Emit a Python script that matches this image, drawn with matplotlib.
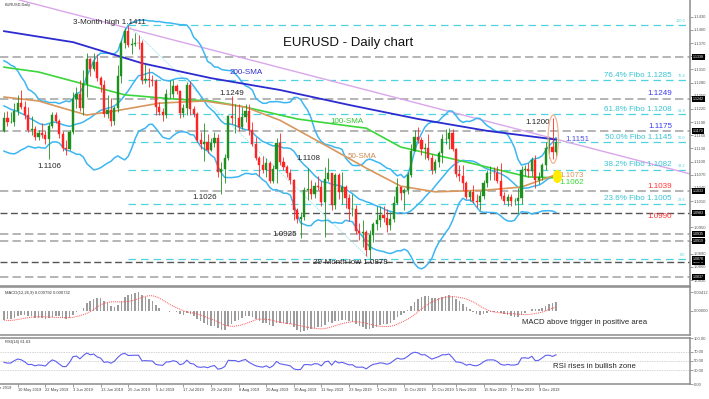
import numpy as np
import pandas as pd
import matplotlib
matplotlib.use("Agg")
import matplotlib.pyplot as plt
import matplotlib.transforms as mtransforms
from matplotlib.patches import Ellipse

plt.rcParams['font.family'] = ['Liberation Sans', 'DejaVu Sans']

# April 2019 closes, only used to warm up the indicators
prior_close = [1.1261, 1.1264, 1.1274, 1.1254, 1.1299, 1.1303, 1.1283, 1.1296, 1.1235, 1.1246,
               1.1258, 1.1224, 1.1154, 1.1131, 1.1149, 1.1183, 1.1216, 1.1194, 1.1172, 1.1200]

first_open = 1.1170
close = [1.1199, 1.1190, 1.1191, 1.1215, 1.1233,
         1.1225, 1.1205, 1.1173, 1.1174, 1.1157,
         1.1164, 1.1160, 1.1152, 1.1180, 1.1205,
         1.1192, 1.1163, 1.1130, 1.1129, 1.1168,
         1.1243, 1.1253, 1.1221, 1.1276, 1.1333,
         1.1310, 1.1327, 1.1291, 1.1275, 1.1208,
         1.1217, 1.1193, 1.1223, 1.1294, 1.1369,
         1.1398, 1.1365, 1.1368, 1.1371, 1.1370,
         1.1285, 1.1289, 1.1285, 1.1283, 1.1225,
         1.1213, 1.1207, 1.1253, 1.1255, 1.1271,
         1.1261, 1.1210, 1.1223, 1.1274, 1.1219,
         1.1208, 1.1150, 1.1139, 1.1145, 1.1127,
         1.1143, 1.1153, 1.1076, 1.1084, 1.1108,
         1.1203, 1.1199, 1.1199, 1.1179, 1.1201,
         1.1215, 1.1172, 1.1140, 1.1107, 1.1091,
         1.1080, 1.1096, 1.1056, 1.1082, 1.1143,
         1.1100, 1.1088, 1.1075, 1.1059, 1.0990,
         1.0969, 1.0973, 1.1035, 1.1037, 1.1027,
         1.1045, 1.1042, 1.1008, 1.1061, 1.1073,
         1.1001, 1.1070, 1.1031, 1.1043, 1.1018,
         1.0991, 1.0993, 1.0941, 1.0938, 1.0940,
         1.0899, 1.0932, 1.0958, 1.0966, 1.0979,
         1.0972, 1.0956, 1.0970, 1.1005, 1.1041,
         1.1028, 1.1035, 1.1070, 1.1125, 1.1157,
         1.1150, 1.1128, 1.1131, 1.1107, 1.1080,
         1.1099, 1.1119, 1.1151, 1.1152, 1.1166,
         1.1128, 1.1071, 1.1066, 1.1052, 1.1019,
         1.1031, 1.1011, 1.1007, 1.1022, 1.1051,
         1.1073, 1.1075, 1.1074, 1.1056, 1.1022,
         1.1011, 1.1019, 1.1009, 1.1010, 1.1017,
         1.1081, 1.1083, 1.1078, 1.1103, 1.1059,
         1.1064, 1.1093, 1.1130, 1.1132, 1.1121,
         1.1144]
high = [1.1213, 1.1215, 1.1212, 1.1233, 1.1252,
        1.1264, 1.1237, 1.1224, 1.1203, 1.1182,
        1.1172, 1.1188, 1.1170, 1.1188, 1.1214,
        1.1214, 1.1196, 1.1170, 1.1149, 1.1173,
        1.1259, 1.1269, 1.1286, 1.1309, 1.1348,
        1.1335, 1.1347, 1.1344, 1.1296, 1.1285,
        1.1251, 1.1245, 1.1227, 1.1319, 1.1378,
        1.1404, 1.1411, 1.1382, 1.1393, 1.1389,
        1.1376, 1.1322, 1.1312, 1.1297, 1.1289,
        1.1236, 1.1221, 1.1265, 1.1286, 1.1285,
        1.1276, 1.1262, 1.1230, 1.1282, 1.1283,
        1.1226, 1.1212, 1.1168, 1.1187, 1.1163,
        1.1154, 1.1168, 1.1163, 1.1098, 1.1117,
        1.1207, 1.1249, 1.1230, 1.1230, 1.1225,
        1.1232, 1.1230, 1.1190, 1.1155, 1.1113,
        1.1112, 1.1107, 1.1101, 1.1093, 1.1153,
        1.1164, 1.1110, 1.1093, 1.1083, 1.1060,
        1.0995, 1.0985, 1.1042, 1.1085, 1.1058,
        1.1053, 1.1068, 1.1055, 1.1087, 1.1109,
        1.1075, 1.1075, 1.1075, 1.1076, 1.1047,
        1.1025, 1.1025, 1.1001, 1.0960, 1.0967,
        1.0945, 1.0943, 1.0963, 1.0998, 1.0999,
        1.0999, 1.0991, 1.0986, 1.1021, 1.1063,
        1.1043, 1.1040, 1.1077, 1.1140, 1.1173,
        1.1179, 1.1155, 1.1143, 1.1163, 1.1118,
        1.1106, 1.1125, 1.1163, 1.1175, 1.1176,
        1.1175, 1.1130, 1.1092, 1.1093, 1.1055,
        1.1036, 1.1047, 1.1025, 1.1032, 1.1058,
        1.1080, 1.1089, 1.1087, 1.1090, 1.1097,
        1.1030, 1.1025, 1.1026, 1.1016, 1.1039,
        1.1090, 1.1093, 1.1096, 1.1110, 1.1116,
        1.1076, 1.1097, 1.1145, 1.1155, 1.1200,
        1.1153]
low = [1.1167, 1.1181, 1.1187, 1.1180, 1.1206,
       1.1219, 1.1197, 1.1167, 1.1160, 1.1149,
       1.1149, 1.1153, 1.1140, 1.1106, 1.1177,
       1.1188, 1.1153, 1.1125, 1.1116, 1.1126,
       1.1162, 1.1223, 1.1215, 1.1206, 1.1246,
       1.1296, 1.1306, 1.1284, 1.1258, 1.1202,
       1.1200, 1.1181, 1.1183, 1.1212, 1.1278,
       1.1358, 1.1361, 1.1346, 1.1364, 1.1356,
       1.1276, 1.1280, 1.1270, 1.1271, 1.1207,
       1.1206, 1.1193, 1.1200, 1.1245, 1.1245,
       1.1253, 1.1200, 1.1201, 1.1207, 1.1206,
       1.1201, 1.1144, 1.1128, 1.1101, 1.1119,
       1.1123, 1.1134, 1.1064, 1.1026, 1.1050,
       1.1104, 1.1185, 1.1164, 1.1170, 1.1175,
       1.1189, 1.1160, 1.1135, 1.1103, 1.1066,
       1.1073, 1.1065, 1.1050, 1.1051, 1.1052,
       1.1091, 1.1081, 1.1065, 1.1048, 1.0966,
       1.0959, 1.0926, 1.0966, 1.1013, 1.1015,
       1.1017, 1.1035, 1.0998, 1.0927, 1.1055,
       1.0990, 1.0993, 1.1015, 1.1003, 1.0995,
       1.0965, 1.0976, 1.0934, 1.0921, 1.0905,
       1.0885, 1.0878, 1.0916, 1.0943, 1.0950,
       1.0962, 1.0940, 1.0943, 1.0962, 1.1003,
       1.1013, 1.0990, 1.1025, 1.1065, 1.1123,
       1.1142, 1.1115, 1.1105, 1.1103, 1.1072,
       1.1073, 1.1087, 1.1097, 1.1140, 1.1129,
       1.1123, 1.1064, 1.1055, 1.1036, 1.1014,
       1.1011, 1.1005, 1.0997, 1.0989, 1.1014,
       1.1042, 1.1057, 1.1059, 1.1050, 1.1015,
       1.1003, 1.0999, 1.0999, 1.1001, 1.0981,
       1.1003, 1.1067, 1.1065, 1.1068, 1.1040,
       1.1048, 1.1059, 1.1080, 1.1108, 1.1105,
       1.1111]

# moving averages (bar index, price)
sma200_bar = [0, 20, 40, 60, 80, 100, 120, 140, 160]
sma200_val = [1.1397, 1.1372, 1.1324, 1.1290, 1.1263, 1.1229, 1.1197, 1.1170, 1.1150]
sma100_bar = [0, 10, 20, 35, 50, 60, 70, 85, 100, 105, 115, 125, 135, 145, 152, 160]
sma100_val = [1.1315, 1.1304, 1.1283, 1.1252, 1.1242, 1.1238, 1.1224, 1.1197, 1.1181, 1.1176,
              1.1133, 1.1115, 1.1097, 1.1078, 1.1065, 1.1063]
sma50_bar = [0, 10, 20, 24, 32, 45, 58, 70, 80, 95, 105, 115, 125, 140, 150, 160]
sma50_val = [1.1247, 1.1238, 1.1215, 1.1206, 1.1215, 1.1233, 1.1238, 1.1224, 1.1194, 1.1129,
             1.1085, 1.1044, 1.1031, 1.1035, 1.1042, 1.1070]

# descending trendline anchors
trend_bar = [0, 160]
trend_val = [1.1477, 1.1151]

# fibonacci retracement from 3-month high to 29-month low
fib_high, fib_low = 1.1411, 1.0878
fib_high_date, fib_low_date = "2019-06-25", "2019-10-01"
fib_pct = [100.0, 76.4, 61.8, 50.0, 38.2, 23.6, 0.0]
fib_text = {76.4: "76.4% Fibo 1.1285", 61.8: "61.8% Fibo 1.1208", 50.0: "50.0% Fibo 1.1145",
            38.2: "38.2% Fibo 1.1082", 23.6: "23.6% Fibo 1.1005"}

# horizontal support / resistance lines
gray_levels = [1.1338, 1.1242, 1.1170, 1.1033, 1.0935, 1.0919, 1.0837]
dark_levels = [1.0983, 1.0871]

tick_labels = ["10 May 2019", "22 May 2019", "3 Jun 2019", "13 Jun 2019", "25 Jun 2019",
               "5 Jul 2019", "17 Jul 2019", "29 Jul 2019", "8 Aug 2019", "20 Aug 2019",
               "30 Aug 2019", "11 Sep 2019", "23 Sep 2019", "3 Oct 2019", "15 Oct 2019",
               "25 Oct 2019", "5 Nov 2019", "15 Nov 2019", "27 Nov 2019", "9 Dec 2019"]

# ---------------------------------------------------------------
dates = pd.bdate_range("2019-05-06", periods=len(close))
n = len(close)
idx = np.arange(n)
c = np.array(close)
o = np.r_[first_open, c[:-1]]
h = np.array(high)
l = np.array(low)

full = pd.Series(prior_close + close)
mid = full.rolling(20).mean()
sd = full.rolling(20).std(ddof=0)
bb_mid = mid.values[-n:]
bb_up = (mid + 2 * sd).values[-n:]
bb_lo = (mid - 2 * sd).values[-n:]

ema12 = full.ewm(span=12, adjust=False).mean()
ema26 = full.ewm(span=26, adjust=False).mean()
macd = ema12 - ema26
signal = macd.rolling(9).mean()
macd_v = macd.values[-n:]
signal_v = signal.values[-n:]

delta = full.diff()
ag = delta.clip(lower=0).ewm(alpha=1 / 14, adjust=False).mean()
al = (-delta.clip(upper=0)).ewm(alpha=1 / 14, adjust=False).mean()
rsi = (100 - 100 / (1 + ag / al)).values[-n:]

W, H = 709, 399
fig = plt.figure(figsize=(W / 100, H / 100), dpi=100)
ax = fig.add_axes([0, 1 - 286 / H, 690 / W, 286 / H])
axm = fig.add_axes([0, 1 - 335 / H, 690 / W, 48 / H])
axr = fig.add_axes([0, 1 - 384 / H, 690 / W, 46 / H])

xlim = (-1.16, 198.84)
for a in (ax, axm, axr):
    a.set_xlim(*xlim)
    a.spines['left'].set_visible(False)
    for s in ('top', 'bottom', 'right'):
        a.spines[s].set_color('#8c8c8c')
        a.spines[s].set_linewidth(1.1)
    a.yaxis.tick_right()
    a.tick_params(axis='y', labelsize=3, length=2, width=0.5, color='#777777',
                  labelcolor='#555555', pad=1)
    a.tick_params(axis='x', bottom=False, labelbottom=False)
ax.spines['top'].set_visible(False)

ax.set_ylim(1.08165, 1.1468)
ax.set_yticks(np.arange(1.083, 1.1445, 0.003))
ax.yaxis.set_major_formatter(plt.FormatStrFormatter('%.4f'))

# horizontal lines
for lv in gray_levels:
    ax.axhline(lv, color='#a8a8a8', lw=1.2, dashes=(5, 2.5), zorder=1)
for lv in dark_levels:
    ax.axhline(lv, color='#555555', lw=1.0, dashes=(5, 2.5), zorder=1)

i_hi = dates.get_loc(pd.Timestamp(fib_high_date))
i_lo = dates.get_loc(pd.Timestamp(fib_low_date))
fib_col = '#4fd3e0'
for p in fib_pct:
    lv = fib_low + p / 100 * (fib_high - fib_low)
    ax.hlines(lv, i_hi, xlim[1], color=fib_col, lw=0.9, linestyles=(0, (6, 4)), zorder=1)
    ax.text(197.6, lv + 0.0004, f"{p:.1f}", fontsize=2.8, color=fib_col, ha='right', va='bottom')
    if p in fib_text:
        ax.text(193.6, lv + 0.0003, fib_text[p], fontsize=5.8, color='#35c4d4',
                ha='right', va='bottom')
ax.plot([i_hi, i_lo], [fib_high, fib_low], color='#9be6ee', lw=0.6, ls=(0, (2, 1)), zorder=1)

ax.axline((trend_bar[0], trend_val[0]), (trend_bar[1], trend_val[1]), color='#d9a6ea', lw=1.0, zorder=2)

# indicators
ax.plot(idx, bb_up, color='#3db6f2', lw=1.1, zorder=2)
ax.plot(idx, bb_mid, color='#3db6f2', lw=1.1, zorder=2)
ax.plot(idx, bb_lo, color='#3db6f2', lw=1.1, zorder=2)
ax.plot(sma200_bar, sma200_val, color='#2b2bd0', lw=1.3, zorder=2)
ax.plot(sma100_bar, sma100_val, color='#3ad63a', lw=1.2, zorder=2)
ax.plot(sma50_bar, sma50_val, color='#d8975c', lw=1.2, zorder=2)

# candles
up = c >= o
cols = np.where(up, '#1f8f1f', '#ff2424')
ax.vlines(idx, l, h, colors=cols, lw=0.6, zorder=3)
body = np.maximum(np.abs(c - o), 0.00008)
ax.bar(idx, body, bottom=np.minimum(o, c), width=0.62, color=cols, edgecolor=cols, lw=0.3, zorder=4)

ax.add_patch(Ellipse((159.2, 1.1151), 3.0, 0.011, fill=False, ec='#f2b38f', lw=0.9, zorder=6))
ax.add_patch(Ellipse((160.4, 1.1066), 2.6, 0.0030, fc='#ffec00', ec='none', zorder=6))

# annotations
tc = '#262626'
ax.text(99.7, 1.1370, "EURUSD - Daily chart", fontsize=9.5, color='#111111', ha='center', va='center')
ax.text(30.7, 1.1416, "3-Month high 1.1411", fontsize=5.8, color=tc, ha='center', va='center')
ax.text(13.3, 1.1088, "1.1106", fontsize=5.8, color=tc, ha='center', va='center')
ax.text(66.1, 1.1256, "1.1249", fontsize=5.8, color=tc, ha='center', va='center')
ax.text(58.3, 1.1019, "1.1026", fontsize=5.8, color=tc, ha='center', va='center')
ax.text(88.1, 1.1106, "1.1108", fontsize=5.8, color=tc, ha='center', va='center')
ax.text(81.4, 1.0933, "1.0925", fontsize=5.8, color=tc, ha='center', va='center')
ax.text(100.3, 1.0869, "29-Month low 1.0878", fontsize=5.8, color=tc, ha='center', va='center')
ax.text(154.8, 1.1188, "1.1200", fontsize=5.8, color=tc, ha='center', va='center')
ax.text(166.1, 1.1151, "1.1151", fontsize=5.8, color='#5151e0', ha='center', va='center')
ax.text(164.6, 1.1069, "1.1073", fontsize=5.8, color='#d8975c', ha='center', va='center')
ax.text(164.6, 1.1052, "1.1062", fontsize=5.8, color='#3ad63a', ha='center', va='center')
ax.text(70.1, 1.1302, "200-SMA", fontsize=5.8, color='#2b2bd0', ha='center', va='center')
ax.text(99.4, 1.1191, "100-SMA", fontsize=5.8, color='#33c433', ha='center', va='center')
ax.text(103.8, 1.1112, "50-SMA", fontsize=5.8, color='#d08a50', ha='center', va='center')
ax.text(193.6, 1.1254, "1.1249", fontsize=5.8, color='#3a3af0', ha='right', va='center')
ax.text(193.6, 1.1179, "1.1175", fontsize=5.8, color='#3a3af0', ha='right', va='center')
ax.text(193.6, 1.1044, "1.1039", fontsize=5.8, color='#ff3030', ha='right', va='center')
ax.text(193.6, 1.0974, "1.0990", fontsize=5.8, color='#ff3030', ha='right', va='center')
ax.text(0.3, 1.1456, "EURUSD,Daily", fontsize=2.8, color='#333333', ha='left', va='center')

# price boxes on the right axis
trans = mtransforms.blended_transform_factory(ax.transAxes, ax.transData)
for lv in gray_levels + dark_levels + [fib_low]:
    ax.text(1.004, lv, f"{lv:.4f}", transform=trans, fontsize=2.6, color='white', ha='left',
            va='center', clip_on=False, zorder=7,
            bbox=dict(boxstyle='square,pad=0.25', fc='black', ec='none'))

# MACD pane
axm.bar(idx, macd_v, width=0.45, color='#9c9c9c', zorder=2)
axm.plot(idx, signal_v, color='#ff5050', lw=0.7, ls=(0, (1, 1)), zorder=3)
span = np.nanmax(macd_v) - np.nanmin(macd_v)
s_px = span / 40
axm.set_ylim(np.nanmin(macd_v) - 3 * s_px, np.nanmax(macd_v) + 5 * s_px)
axm.set_yticks([0.0, np.nanmax(macd_v)])
axm.yaxis.set_major_formatter(plt.FormatStrFormatter('%.5f'))
axm.text(0.3, 0.92, "MACD(12,26,9) 0.000792 0.000732", transform=axm.get_xaxis_transform(),
         fontsize=3, color='#333333', ha='left', va='top')
axm.text(150.1, 0.27, "MACD above trigger in positive area", transform=axm.get_xaxis_transform(),
         fontsize=5.6, color=tc, ha='left', va='center')

# RSI pane
axr.set_ylim(0, 100)
for lv in (70, 50, 30):
    axr.axhline(lv, color='#c4c4c4', lw=0.5, ls=(0, (2, 1.5)), zorder=1)
axr.plot(idx, rsi, color='#5e5ef0', lw=0.8, zorder=2)
axr.set_yticks([0, 30, 50, 70, 100])
axr.yaxis.set_major_formatter(plt.FormatStrFormatter('%.2f'))
axr.text(0.3, 96, "RSI(14) 61.63", fontsize=3, color='#333333', ha='left', va='top')
axr.text(159.2, 38, "RSI rises in bullish zone", fontsize=5.6, color=tc, ha='left', va='center')

tick_idx = dates.searchsorted(pd.to_datetime(tick_labels, format="%d %b %Y"))
axr.set_xticks(tick_idx)
axr.set_xticklabels(tick_labels)
axr.tick_params(axis='x', bottom=True, labelbottom=True, labelsize=2.9, length=2.5, width=0.5,
                color='#777777', labelcolor='#444444', pad=0.5)
for t in axr.get_xticklabels():
    t.set_horizontalalignment('left')
axr.text(tick_idx[0] - 8, -4, "30 Apr 2019", fontsize=2.9, color='#444444', ha='left', va='top',
         clip_on=False)

fig.savefig("out.png", dpi=100)
